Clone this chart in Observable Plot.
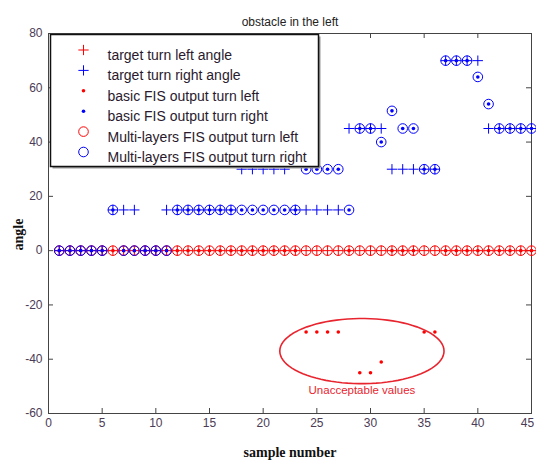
<!DOCTYPE html>
<html><head><meta charset="utf-8">
<script src="https://cdn.jsdelivr.net/npm/d3@7"></script>
<script src="https://cdn.jsdelivr.net/npm/@observablehq/plot@0.6"></script>
<style>body{margin:0;background:#fff;}</style>
</head><body><div id="chart"></div>
<script>
// ---- data ----
const samples = [1,2,3,4,5,6,7,8,9,10,11,12,13,14,15,16,17,18,19,20,21,22,23,24,25,26,27,28,29,30,31,32,33,34,35,36,37,38,39,40,41,42,43,44,45];
const targetLeft  = [0,0,0,0,0,0,0,0,0,0,0,0,0,0,0,0,0,0,0,0,0,0,0,0,0,0,0,0,0,0,0,0,0,0,0,0,0,0,0,0,0,0,0,0,0];
const targetRight = [0,0,0,0,0,15,15,15,0,0,15,15,15,15,15,15,15,30,30,30,30,30,15,15,15,15,15,45,45,45,45,30,30,30,30,30,70,70,70,70,45,45,45,45,45];
const basicLeft   = [0,0,0,0,0,0,0,0,0,0,0,0,0,0,0,0,0,0,0,0,0,0,0,-30,-30,-30,-30,0,-45,-45,-41,0,0,0,-30,-30,0,0,0,0,0,0,0,0,0];
const basicRight  = [0,0,0,0,0,15,0,0,0,0,0,15,15,15,15,15,15,15,15,15,15,15,15,30,30,30,30,15,45,45,40,51.5,45,45,30,30,70,70,70,64,54,45,45,45,45];
const multiLeft   = [0,0,0,0,0,0,0,0,0,0,0,0,0,0,0,0,0,0,0,0,0,0,0,0,0,0,0,0,0,0,0,0,0,0,0,0,0,0,0,0,0,0,0,0,0];
const multiRight  = [0,0,0,0,0,15,0,0,0,0,0,15,15,15,15,15,15,15,15,15,15,15,15,30,30,30,30,15,45,45,40,51.5,45,45,30,30,70,70,70,64,54,45,45,45,45];
const seriesNames = ["target turn left angle","target turn right angle","basic FIS output turn left","basic FIS output turn right","Multi-layers FIS output turn left","Multi-layers FIS output turn right"];
const xTicks = [0,5,10,15,20,25,30,35,40,45];
const yTicks = [-60,-40,-20,0,20,40,60,80];
const titleText = "obstacle in the left";
const xLabel = "sample number";
const yLabel = "angle";
const noteText = "Unacceptable values";
const ellipseCenter = [29.2, -37.0];
const ellipseRadii = [7.65, 12.0];
const notePos = [29.2, -51.3];

// ---- styles ----
const RED = "#ff0000", BLUE = "#0000ff";
const W = 536, H = 466, mL = 48, mR = 5, mT = 33, mB = 53;
const innerW = W - mL - mR, innerH = H - mT - mB;
const tickCol = "#4b3b55";
const sans = "Liberation Sans, Arial, sans-serif";
const serif = "Liberation Serif, Times New Roman, serif";

const series = [
  {values: targetLeft,  kind: "plus",   color: RED},
  {values: targetRight, kind: "plus",   color: BLUE},
  {values: basicLeft,   kind: "dot",    color: RED},
  {values: basicRight,  kind: "dot",    color: BLUE},
  {values: multiLeft,   kind: "circle", color: RED},
  {values: multiRight,  kind: "circle", color: BLUE}
];

function markStyle(kind, color) {
  if (kind === "plus") return {symbol: "plus", r: 3.4, stroke: color, strokeWidth: 1};
  if (kind === "dot") return {symbol: "circle", r: 1.8, fill: color, stroke: null};
  return {symbol: "circle", r: 4.8, fill: "none", stroke: color, strokeWidth: 1};
}

const dataMarks = series.map(s => Plot.dot(samples, {x: samples, y: s.values, ...markStyle(s.kind, s.color)}));

// ellipse annotation
const ang = d3.range(0, 361, 4);
const ellipse = ang.map(a => ({x: ellipseCenter[0] + ellipseRadii[0] * Math.cos(a * Math.PI / 180), y: ellipseCenter[1] + ellipseRadii[1] * Math.sin(a * Math.PI / 180)}));

// legend (pixel placement inside frame)
const legLeft = 2, legTop = 1, legRight = 318, legBottom = 166;
const legendMarks = [];
legendMarks.push(Plot.frame({fill: "#9a9a9a", stroke: null, insetLeft: legLeft + 2, insetTop: legTop + 2, insetRight: (W - mR) - legRight - 2, insetBottom: (H - mB) - legBottom - 2}));
legendMarks.push(Plot.frame({fill: "white", stroke: "#111", strokeWidth: 1.5, insetLeft: legLeft, insetTop: legTop, insetRight: (W - mR) - legRight, insetBottom: (H - mB) - legBottom}));
series.forEach((s, i) => {
  const dy = 49.5 - mT + i * 20.4;
  legendMarks.push(Plot.dot([0], {frameAnchor: "top-left", dx: 83 - mL, dy, ...markStyle(s.kind, s.color)}));
  legendMarks.push(Plot.text([seriesNames[i]], {frameAnchor: "top-left", dx: 107 - mL, dy, text: d => d, textAnchor: "start", fontSize: 14, fill: "#2a1a2e", fontFamily: sans}));
});

const tickLabelStyle = {text: d => String(d), fontSize: 12, fill: tickCol, fontFamily: sans};

const chart = Plot.plot({
  width: W, height: H,
  marginLeft: mL, marginRight: mR, marginTop: mT, marginBottom: mB,
  style: {fontFamily: sans, fontSize: "12px", background: "white"},
  x: {domain: [0, 45], axis: null},
  y: {domain: [-60, 80], ticks: yTicks, tickSize: 0, tickPadding: 6, label: null, tickFormat: d => d},
  marks: [
    Plot.frame({stroke: "#444", strokeWidth: 1}),
    Plot.tickX(xTicks.slice(1, -1), {x: d => d, insetTop: innerH - 5, stroke: "#444"}),
    Plot.tickX(xTicks.slice(1, -1), {x: d => d, insetBottom: innerH - 5, stroke: "#444"}),
    Plot.tickY(yTicks.slice(1, -1), {y: d => d, insetRight: innerW - 5, stroke: "#444"}),
    Plot.tickY(yTicks.slice(1, -1), {y: d => d, insetLeft: innerW - 5, stroke: "#444"}),
    Plot.text(xTicks.slice(0, -1), {x: d => d, frameAnchor: "bottom", dy: 13, ...tickLabelStyle}),
    Plot.text(xTicks.slice(-1), {x: d => d, frameAnchor: "bottom", dy: 13, dx: -4, ...tickLabelStyle}),
    ...dataMarks,
    Plot.line(ellipse, {x: "x", y: "y", curve: "linear-closed", stroke: "#e8252f", strokeWidth: 1.6}),
    Plot.text([noteText], {x: () => notePos[0], y: () => notePos[1], text: d => d, fill: "#e8252f", fontSize: 11.5, fontFamily: sans}),
    ...legendMarks,
    Plot.text([titleText], {frameAnchor: "top", dy: -16, text: d => d, fontSize: 12, fill: "#222", fontFamily: sans}),
    Plot.text([xLabel], {frameAnchor: "bottom", dy: 43, text: d => d, fontSize: 14, fontWeight: "bold", fontFamily: serif, fill: "#111"}),
    Plot.text([yLabel], {frameAnchor: "left", dx: -30, dy: 27, rotate: -90, text: d => d, fontSize: 14, fontWeight: "bold", fontFamily: serif, fill: "#111"})
  ]
});
chart.querySelectorAll("g[aria-label^='y-axis'] text").forEach(t => t.setAttribute("fill", tickCol));
document.getElementById("chart").appendChild(chart);
</script>
</body></html>
